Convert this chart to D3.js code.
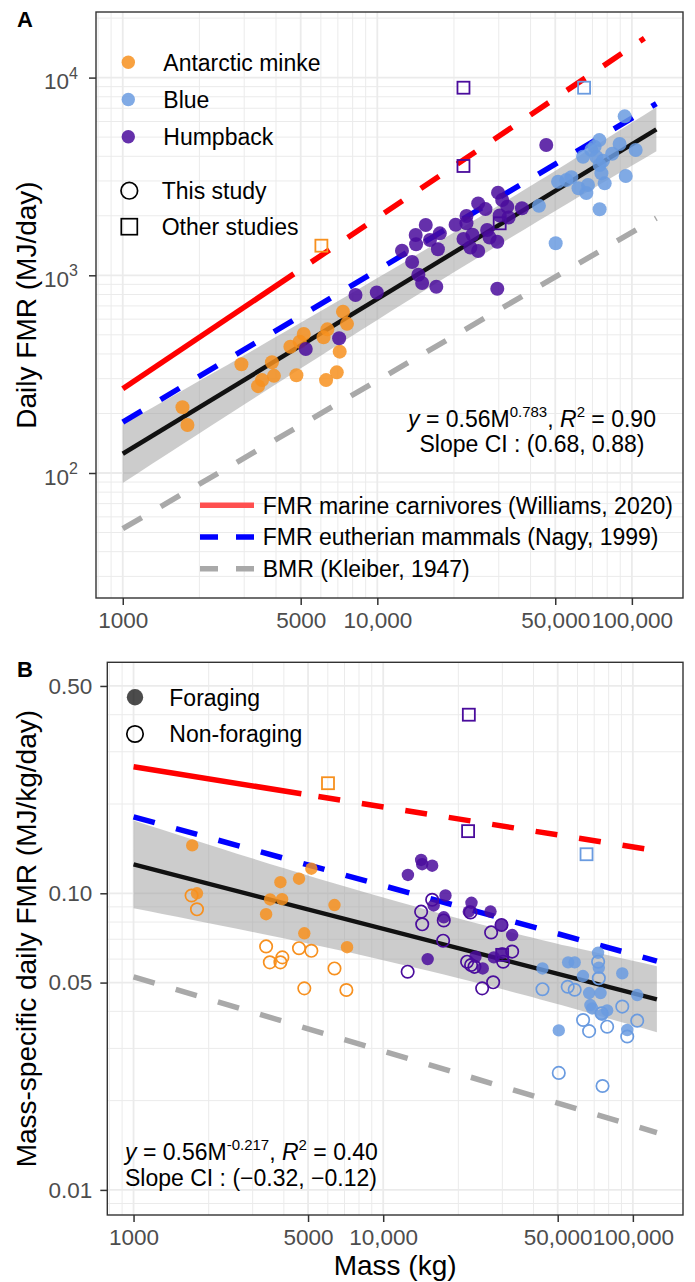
<!DOCTYPE html>
<html>
<head>
<meta charset="utf-8">
<script src="https://cdn.jsdelivr.net/npm/d3@7"></script>
<style>
  body { margin: 0; background: #fff; }
  svg { display: block; }
  text { font-family: "Liberation Sans", Arial, Helvetica, sans-serif; }
</style>
</head>
<body>
<script>
// ---------- data: panel A (daily FMR, MJ/day) ----------
const minkeA = [[1716,215],[1795,175],[2925,355],[3400,275],[3525,295],[3855,363],[3925,310],[4810,312],[4555,435],
  [5140,505],[4955,461],[6150,486],[6365,533],[7330,655],[7600,568],[7115,411],[6930,323],[6290,295]];
const humpbackA = [[5235,424],[7080,480],[8210,795],[9950,818],[12500,1331],[13700,1167],[14500,1007],[15000,915],
  [17050,875],[14150,1600],[14200,1436],[15500,1795],[16100,1509],[17600,1630],[17300,1354],[20300,1803],[22400,1995],
  [22400,1832],[21800,1527],[23200,1383],[23650,1604],[24900,1327],[24900,2310],[26600,2162],[27000,1694],[27600,1553],
  [29600,1479],[29800,2618],[30950,2404],[32400,2223],[30250,2006],[32800,1959],[37000,2183],[46100,4560],[29600,855]];
const blueA = [[43150,2245],[50200,1452],[51300,2972],[55300,3033],[57850,3133],[61700,2754],[66250,2605],[67250,2865],
  [64300,3980],[69300,4303],[71400,4467],[74500,4830],[72550,3963],[74700,3612],[77000,3795],[75900,3283],[78200,2918],
  [74700,2158],[83700,4121],[89500,4614],[93700,6368],[103500,4303],[94600,3177]];
const otherA = [["minke",6030,1412],["humpback",21800,8890],["humpback",21800,3573],["humpback",30250,1832],["blue",64900,8890]];

// ---------- data: panel B (mass-specific FMR, MJ/kg/day) ----------
const minkeForage = [[1718,0.145],[1795,0.100],[3875,0.109],[4600,0.112],[5155,0.121],[3524,0.0953],[3935,0.0955],
  [3396,0.085],[6380,0.0913],[4830,0.0733],[7165,0.0658]];
const minkeNonForage = [[1708,0.0983],[1795,0.0883],[3396,0.0662],[3515,0.0585],[3875,0.0585],[3945,0.0608],[4600,0.0653],
  [5155,0.064],[6380,0.0558],[4830,0.0478],[7120,0.0472]];
const humpForage = [[12560,0.1153],[14190,0.1295],[14330,0.1253],[15710,0.1239],[17760,0.0983],[15930,0.091],[17480,0.083],
  [15070,0.060],[22570,0.0929],[22020,0.0867],[26900,0.0868],[23420,0.0611],[25050,0.0558],[29900,0.0782],[32850,0.0723],
  [27750,0.0608],[29960,0.0628]];
const humpNonForage = [[12530,0.0544],[14190,0.0867],[14330,0.0786],[15710,0.0951],[17480,0.081],[17380,0.0692],
  [22360,0.0862],[27060,0.0738],[21680,0.0588],[22490,0.0573],[23200,0.0565],[24910,0.0478],[27570,0.0501],[30230,0.0588],
  [32850,0.0636],[29770,0.0782]];
const blueForage = [[43450,0.0558],[50500,0.0345],[55050,0.0585],[58480,0.0585],[63100,0.0526],[72530,0.063],[73060,0.0561],
  [66800,0.0461],[74230,0.0461],[67600,0.042],[78890,0.0403],[75330,0.0389],[90700,0.0537],[104100,0.0454],[94950,0.0346],
  [68700,0.0409]];
const blueNonForage = [[43450,0.0475],[50500,0.0248],[54830,0.0484],[58480,0.0473],[72600,0.0588],[73060,0.0517],
  [63200,0.0374],[66800,0.0343],[78890,0.0355],[74900,0.0394],[90700,0.0415],[104100,0.0372],[94950,0.0329],[75600,0.0224]];
const otherB = [["minke",6010,0.235],["humpback",22030,0.40],["humpback",21880,0.162],["humpback",29960,0.062],["blue",65230,0.1354]];

// ---------- fitted and reference lines ----------
const fitA = [[1000,125.1],[124800,5474]];
const fitB = [[1000,0.1251],[124800,0.0439]];
const ribbonMass = [1000,3000,10000,28000,56000,124800];
const ribbonLoA = [89,222,595,1350,2309,4240];
const ribbonHiA = [176,394,968,2140,3703,7088];
const ribbonLoB = [0.089,0.074,0.0595,0.0482,0.0412,0.0340];
const ribbonHiB = [0.176,0.131,0.0968,0.0764,0.0661,0.0568];
const williamsSolidA = [[1000,267],[4700,1017]];
const williamsDashA = [[5500,1166],[112000,15800]];
const nagyA = [[1000,181],[124800,7380]];
const kleiberA = [[1000,52.3],[124800,1945]];
const williamsSolidB = [[1000,0.267],[4700,0.2166]];
const williamsDashB = [[5500,0.212],[112000,0.1411]];
const nagyB = [[1000,0.181],[124800,0.0591]];
const kleiberB = [[1000,0.0523],[124800,0.0156]];

// ---------- ticks / labels ----------
const massTicks = [1000,5000,10000,50000,100000];
const fmrTicksA = [100,1000,10000];
const fmrTicksB = [0.01,0.05,0.1,0.5];
const speciesNames = ["Antarctic minke","Blue","Humpback"];
const studyNames = ["This study","Other studies"];
const refNames = ["FMR marine carnivores (Williams, 2020)","FMR eutherian mammals (Nagy, 1999)","BMR (Kleiber, 1947)"];
const behaviourNames = ["Foraging","Non-foraging"];

// ---------- setup ----------
const W = 695, H = 1282;
const colors = {minke: "#F7901E", blue: "#6A9BE0", humpback: "#4A0C9C"};
const tickFont = 22.5;
const svg = d3.select("body").append("svg").attr("width", W).attr("height", H);

const boxA = {left: 96, top: 12, right: 683, bottom: 598};
const boxB = {left: 107.3, top: 662.3, right: 683, bottom: 1215};

const xA = d3.scaleLog().domain([785, 158800]).range([boxA.left, boxA.right]);
const yA = d3.scaleLog().domain([23.32, 21470]).range([boxA.bottom, boxA.top]);
const xB = d3.scaleLog().domain([785, 158800]).range([boxB.left, boxB.right]);
const yB = d3.scaleLog().domain([0.00823, 0.6008]).range([boxB.bottom, boxB.top]);

function minorTicks(domain, majors) {
  const out = [];
  for (let e = -4; e <= 6; e++) {
    for (let m = 1; m <= 9; m++) {
      const v = +(m * Math.pow(10, e)).toPrecision(6);
      if (v < domain[0] || v > domain[1]) continue;
      if (majors.some(t => Math.abs(t - v) / v < 1e-6)) continue;
      out.push(v);
    }
  }
  return out;
}

function grid(x, y, box, xMaj, yMaj) {
  const g = svg.append("g");
  const xMin = minorTicks(x.domain(), xMaj), yMin = minorTicks(y.domain(), yMaj);
  g.selectAll(".vx").data(xMin).join("line").attr("x1", d => x(d)).attr("x2", d => x(d))
    .attr("y1", box.top).attr("y2", box.bottom).attr("stroke", "#EBEBEB").attr("stroke-width", 1);
  g.selectAll(".hy").data(yMin).join("line").attr("y1", d => y(d)).attr("y2", d => y(d))
    .attr("x1", box.left).attr("x2", box.right).attr("stroke", "#EBEBEB").attr("stroke-width", 1);
  g.selectAll(".vX").data(xMaj).join("line").attr("x1", d => x(d)).attr("x2", d => x(d))
    .attr("y1", box.top).attr("y2", box.bottom).attr("stroke", "#EBEBEB").attr("stroke-width", 1.8);
  g.selectAll(".hY").data(yMaj).join("line").attr("y1", d => y(d)).attr("y2", d => y(d))
    .attr("x1", box.left).attr("x2", box.right).attr("stroke", "#EBEBEB").attr("stroke-width", 1.8);
}

function ribbon(x, y, lo, hi) {
  const rows = ribbonMass.map((m, i) => ({m, lo: lo[i], hi: hi[i]}));
  svg.append("path").datum(rows)
    .attr("d", d3.area().x(d => x(d.m)).y0(d => y(d.lo)).y1(d => y(d.hi)).curve(d3.curveNatural))
    .attr("fill", "#999").attr("fill-opacity", 0.5);
}

function line(x, y, pts, color, width, dash) {
  svg.append("path").datum(pts)
    .attr("d", d3.line().x(d => x(d[0])).y(d => y(d[1])))
    .attr("fill", "none").attr("stroke", color).attr("stroke-width", width)
    .attr("stroke-dasharray", dash || null);
}

function dots(x, y, pts, color, r, open) {
  svg.append("g").selectAll("circle").data(pts).join("circle")
    .attr("cx", d => x(d[0])).attr("cy", d => y(d[1])).attr("r", r)
    .attr("fill", open ? "none" : color).attr("fill-opacity", 0.85)
    .attr("stroke", open ? color : "none").attr("stroke-width", 1.7);
}

function squares(x, y, rows) {
  svg.append("g").selectAll("rect").data(rows).join("rect")
    .attr("x", d => x(d[1]) - 6).attr("y", d => y(d[2]) - 6).attr("width", 12).attr("height", 12)
    .attr("fill", "none").attr("stroke", d => colors[d[0]]).attr("stroke-width", 1.8);
}

function xAxis(x, box) {
  const g = svg.append("g").attr("transform", `translate(0,${box.bottom})`)
    .call(d3.axisBottom(x).tickValues(massTicks)
      .tickFormat(d => d >= 10000 ? d3.format(",")(d) : String(d)).tickSize(7).tickPadding(7));
  g.select(".domain").remove();
  g.selectAll("line").attr("stroke", "#333").attr("stroke-width", 1.5);
  g.selectAll("text").attr("font-size", tickFont).attr("fill", "#4D4D4D").attr("font-family", null);
}

function border(box) {
  svg.append("rect").attr("x", box.left).attr("y", box.top)
    .attr("width", box.right - box.left).attr("height", box.bottom - box.top)
    .attr("fill", "none").attr("stroke", "#333").attr("stroke-width", 1.4);
}

// ================= PANEL A =================
grid(xA, yA, boxA, massTicks, fmrTicksA);
ribbon(xA, yA, ribbonLoA, ribbonHiA);
line(xA, yA, kleiberA, "#A9A9A9", 5.5, "22,22");
line(xA, yA, nagyA, "#0000FF", 5.5, "22,22");
line(xA, yA, williamsSolidA, "#FF0000", 5.5);
line(xA, yA, williamsDashA, "#FF0000", 5.5, "22,22");
line(xA, yA, fitA, "#111", 4.5);
dots(xA, yA, minkeA, colors.minke, 7);
dots(xA, yA, humpbackA, colors.humpback, 7);
dots(xA, yA, blueA, colors.blue, 7);
squares(xA, yA, otherA);
border(boxA);
xAxis(xA, boxA);

// y axis A with power-of-ten labels
const gyA = svg.append("g").attr("transform", `translate(${boxA.left},0)`)
  .call(d3.axisLeft(yA).tickValues(fmrTicksA).tickSize(7).tickFormat(""));
gyA.select(".domain").remove();
gyA.selectAll("line").attr("stroke", "#333").attr("stroke-width", 1.5);
fmrTicksA.forEach(v => {
  const t = svg.append("text").attr("x", 78).attr("y", yA(v) + 11.5)
    .attr("text-anchor", "end").attr("font-size", tickFont).attr("fill", "#4D4D4D");
  t.append("tspan").text("10");
  t.append("tspan").attr("dy", -10.5).attr("font-size", 16).text(Math.round(Math.log10(v)));
});

// species + study legend
const legA = svg.append("g");
speciesNames.forEach((name, i) => {
  const key = ["minke", "blue", "humpback"][i];
  const yy = 62.3 + i * 37.2;
  legA.append("circle").attr("cx", 128.3).attr("cy", yy).attr("r", 6.7)
    .attr("fill", colors[key]).attr("fill-opacity", 0.85);
  legA.append("text").attr("x", 163.3).attr("y", yy).attr("dy", "0.36em")
    .attr("font-size", 23).attr("fill", "#000").text(name);
});
studyNames.forEach((name, i) => {
  const yy = 190.7 + i * 36;
  if (i === 0) {
    legA.append("circle").attr("cx", 129.3).attr("cy", yy).attr("r", 8.3)
      .attr("fill", "none").attr("stroke", "#000").attr("stroke-width", 1.7);
  } else {
    legA.append("rect").attr("x", 121.3).attr("y", yy - 8).attr("width", 16).attr("height", 16)
      .attr("fill", "none").attr("stroke", "#000").attr("stroke-width", 1.7);
  }
  legA.append("text").attr("x", 161.7).attr("y", yy).attr("dy", "0.36em")
    .attr("font-size", 23).attr("fill", "#000").text(name);
});

// reference line legend
const refStyles = [["#FF5050", null], ["#0000FF", "18,18"], ["#A9A9A9", "18,18"]];
refNames.forEach((name, i) => {
  const yy = 505.3 + i * 31.7;
  legA.append("line").attr("x1", 200).attr("x2", 254).attr("y1", yy).attr("y2", yy)
    .attr("stroke", refStyles[i][0]).attr("stroke-width", 5.5).attr("stroke-dasharray", refStyles[i][1]);
  legA.append("text").attr("x", 262.7).attr("y", yy).attr("dy", "0.36em")
    .attr("font-size", 23).attr("fill", "#000").text(name);
});

// equation A
const eqA = svg.append("text").attr("x", 532).attr("y", 427).attr("text-anchor", "middle").attr("font-size", 23);
eqA.append("tspan").attr("font-style", "italic").text("y");
eqA.append("tspan").text(" = 0.56M");
eqA.append("tspan").attr("dy", -10).attr("font-size", 15).text("0.783");
eqA.append("tspan").attr("dy", 10).text(", ");
eqA.append("tspan").attr("font-style", "italic").text("R");
eqA.append("tspan").attr("dy", -10).attr("font-size", 15).text("2");
eqA.append("tspan").attr("dy", 10).text(" = 0.90");
svg.append("text").attr("x", 532).attr("y", 452).attr("text-anchor", "middle").attr("font-size", 23)
  .text("Slope CI : (0.68, 0.88)");

svg.append("text").attr("transform", `translate(36,${(boxA.top + boxA.bottom) / 2}) rotate(-90)`)
  .attr("text-anchor", "middle").attr("font-size", 28).text("Daily FMR (MJ/day)");
svg.append("text").attr("x", 17).attr("y", 27).attr("font-size", 22).attr("font-weight", "bold").text("A");

// ================= PANEL B =================
grid(xB, yB, boxB, massTicks, fmrTicksB);
ribbon(xB, yB, ribbonLoB, ribbonHiB);
line(xB, yB, kleiberB, "#A9A9A9", 5.5, "22,22");
line(xB, yB, nagyB, "#0000FF", 5.5, "22,22");
line(xB, yB, williamsSolidB, "#FF0000", 5.5);
line(xB, yB, williamsDashB, "#FF0000", 5.5, "22,22");
line(xB, yB, fitB, "#111", 4.5);
dots(xB, yB, minkeNonForage, colors.minke, 6.2, true);
dots(xB, yB, humpNonForage, colors.humpback, 6.2, true);
dots(xB, yB, blueNonForage, colors.blue, 6.2, true);
dots(xB, yB, minkeForage, colors.minke, 6.2);
dots(xB, yB, humpForage, colors.humpback, 6.2);
dots(xB, yB, blueForage, colors.blue, 6.2);
squares(xB, yB, otherB);
border(boxB);
xAxis(xB, boxB);

const gyB = svg.append("g").attr("transform", `translate(${boxB.left},0)`)
  .call(d3.axisLeft(yB).tickValues(fmrTicksB).tickSize(7).tickPadding(8).tickFormat(d3.format(".2f")));
gyB.select(".domain").remove();
gyB.selectAll("line").attr("stroke", "#333").attr("stroke-width", 1.5);
gyB.selectAll("text").attr("font-size", tickFont).attr("fill", "#4D4D4D").attr("font-family", null);

// behaviour legend
behaviourNames.forEach((name, i) => {
  const yy = 697.3 + i * 36.7;
  svg.append("circle").attr("cx", 135).attr("cy", yy).attr("r", 8.2)
    .attr("fill", i === 0 ? "#000" : "none").attr("fill-opacity", 0.7)
    .attr("stroke", i === 0 ? "none" : "#000").attr("stroke-width", 1.7);
  svg.append("text").attr("x", 169.3).attr("y", yy).attr("dy", "0.36em")
    .attr("font-size", 23).attr("fill", "#000").text(name);
});

// equation B
const eqB = svg.append("text").attr("x", 125).attr("y", 1160).attr("font-size", 23);
eqB.append("tspan").attr("font-style", "italic").text("y");
eqB.append("tspan").text(" = 0.56M");
eqB.append("tspan").attr("dy", -10).attr("font-size", 15).text("-0.217");
eqB.append("tspan").attr("dy", 10).text(", ");
eqB.append("tspan").attr("font-style", "italic").text("R");
eqB.append("tspan").attr("dy", -10).attr("font-size", 15).text("2");
eqB.append("tspan").attr("dy", 10).text(" = 0.40");
svg.append("text").attr("x", 125).attr("y", 1186).attr("font-size", 23).text("Slope CI : (\u22120.32, \u22120.12)");

svg.append("text").attr("transform", `translate(36,${(boxB.top + boxB.bottom) / 2}) rotate(-90)`)
  .attr("text-anchor", "middle").attr("font-size", 28).text("Mass-specific daily FMR (MJ/kg/day)");
svg.append("text").attr("x", (boxB.left + boxB.right) / 2).attr("y", 1275).attr("text-anchor", "middle")
  .attr("font-size", 28).text("Mass (kg)");
svg.append("text").attr("x", 17).attr("y", 677).attr("font-size", 22).attr("font-weight", "bold").text("B");
</script>
</body>
</html>
